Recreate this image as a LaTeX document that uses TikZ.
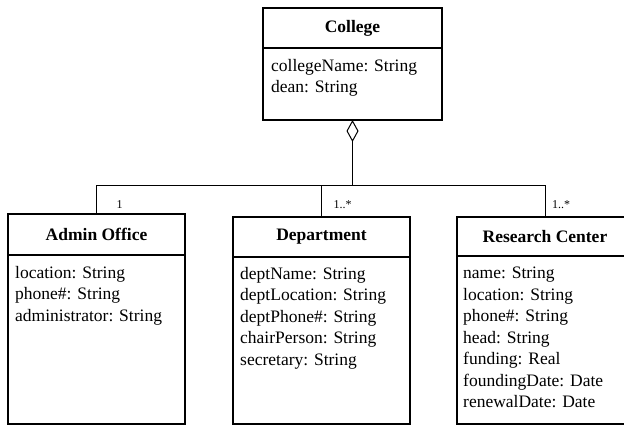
\documentclass[tikz,border=0pt]{standalone}
\usepackage{fontspec}
\setmainfont{Liberation Serif}
\usetikzlibrary{positioning}
\usetikzlibrary{arrows.meta}

\tikzset{
  classname/.style={draw, line width=1.2pt, outer sep=0pt, inner sep=0pt,
    minimum width=177pt, minimum height=40pt,
    font=\bfseries\fontsize{17.5}{21}\selectfont},
  classattr/.style={draw, line width=1.2pt, outer sep=0pt, inner sep=0pt,
    minimum width=177pt},
  attrtext/.style={anchor=north west, inner sep=0pt, align=left,
    font=\fontsize{17.5}{21.5}\selectfont},
  link/.style={line width=1pt},
  mult/.style={inner sep=0pt, font=\fontsize{12}{14}\selectfont}
}

\begin{document}
\begin{tikzpicture}[x=1pt,y=-1pt]
\clip (0,0) rectangle (624,426);

% College (whole)
\node[classname, minimum width=179pt] (college) at (352.5,28) {College};
\node[classattr, minimum width=179pt, minimum height=72pt,
  below=0pt of college] (collegeattr) {};
\node[attrtext, below right=11pt and 8pt of collegeattr.north west]
  (collegetext) {collegeName: String\\dean: String};

% The three parts
\node[classname, minimum height=41pt] (admin) at (96.5,234.5) {Admin Office};
\node[classattr, minimum height=169pt, below=0pt of admin] (adminattr) {};
\node[attrtext, below right=11pt and 7pt of adminattr.north west]
  (admintext) {location: String\\phone\#: String\\administrator: String};

\node[classname] (dept) at (321.5,237) {Department};
\node[classattr, minimum height=167pt, below=0pt of dept] (deptattr) {};
\node[attrtext, below right=10pt and 7pt of deptattr.north west]
  (depttext) {deptName: String\\deptLocation: String\\deptPhone\#: String\\
  chairPerson: String\\secretary: String};

\node[classname, minimum width=176pt, minimum height=39pt]
  (research) at (545,236.5) {Research Center};
\node[classattr, minimum width=176pt, minimum height=168pt,
  below=0pt of research] (researchattr) {};
\node[attrtext, below right=11pt and 6pt of researchattr.north west]
  (researchtext) {name: String\\location: String\\phone\#: String\\
  head: String\\funding: Real\\foundingDate: Date\\renewalDate: Date};

% Aggregation tree
\draw[link, {Diamond[open, length=22pt, width=12pt]}-]
  (collegeattr.south) -- ++(0,65) coordinate (bus);
\draw[link] (bus) -| (admin.north);
\draw[link] (bus) -| (research.north);
\draw[link] (bus -| dept.north) -- (dept.north);

% Multiplicities
\node[mult, above right=5pt and 20pt of admin.north] (multadmin) {1};
\node[mult, above right=8pt and 12pt of dept.north] (multdept) {1..*};
\node[mult, above right=8pt and 7pt of research.north] (multresearch) {1..*};
\end{tikzpicture}
\end{document}
